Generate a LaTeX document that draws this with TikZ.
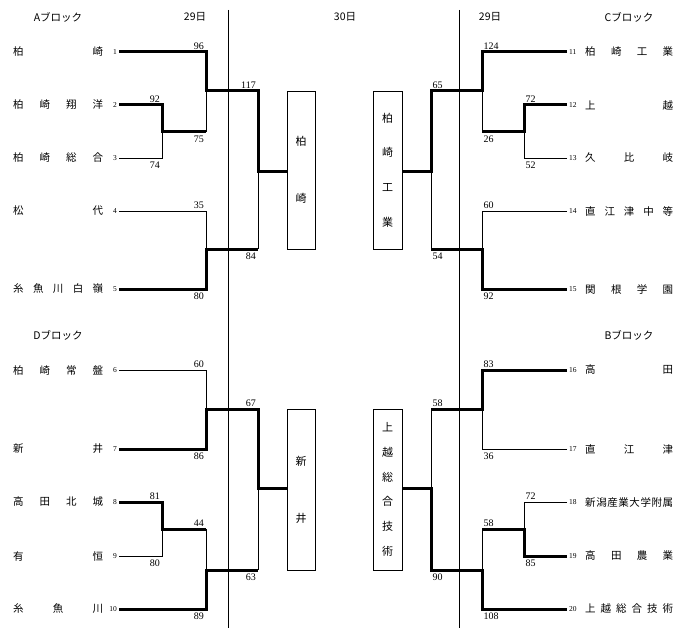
\documentclass[tikz,border=0pt]{standalone}
\usepackage{fontspec}
\setmainfont{Liberation Serif}
\newfontfamily\jp{Noto Sans CJK JP}
\newcommand\spr[1]{\sprA#1\relax}
\def\sprA#1{#1\sprB}
\def\sprB#1{\ifx\relax#1\else\hfill#1\expandafter\sprB\fi}
\begin{document}
\begin{tikzpicture}[x=1pt,y=-1pt,
  win/.style={line width=3pt, line join=miter, line cap=butt},
  lose/.style={line width=0.7pt},
  day/.style={line width=0.6pt},
  nm/.style={font=\jp\fontsize{10.5}{12}\selectfont, inner sep=0pt, anchor=west},
  sd/.style={font=\fontsize{7.5}{8}\selectfont, inner sep=0pt},
  sdl/.style={sd, anchor=east},
  sdr/.style={sd, anchor=west},
  sc/.style={font=\fontsize{10}{12}\selectfont, inner sep=0pt},
  la/.style={sc, anchor=south east, xshift=-2pt, yshift=2pt},
  lb/.style={sc, anchor=north east, xshift=-2pt, yshift=-4pt},
  ra/.style={sc, anchor=south west, xshift=1.5pt, yshift=2pt},
  rb/.style={sc, anchor=north west, xshift=1.5pt, yshift=-4pt},
  hd/.style={font=\jp\fontsize{10.5}{12}\selectfont, inner sep=0pt},
  wbox/.style={draw, line width=0.7pt, minimum width=28pt, inner sep=0pt, align=center}]
\useasboundingbox (0,0) rectangle (700,628);

% headers
\node[hd] (hA) at (58,17) {Aブロック};
\node[hd] (h29l) at (195,17) {29日};
\node[hd] (h30) at (345,17) {30日};
\node[hd] (h29r) at (490,17) {29日};
\node[hd] (hC) at (629,17) {Cブロック};
\node[hd] (hD) at (58,335) {Dブロック};
\node[hd] (hB) at (629,335) {Bブロック};

% day lines
\coordinate (d1a) at (228,10); \coordinate (d1b) at (228,628);
\coordinate (d2a) at (459,10); \coordinate (d2b) at (459,628);
\draw[day] (d1a) -- (d1b);
\draw[day] (d2a) -- (d2b);

% left teams
\foreach \i/\y/\nme in {1/52/柏崎,2/105/柏崎翔洋,3/158/柏崎総合,4/211/松代,5/289/糸魚川白嶺,6/370/柏崎常盤,7/449/新井,8/502/高田北城,9/556/有恒,10/609/糸魚川}{
  \node[nm] (n\i) at (13,\y) {\makebox[90pt][s]{\expandafter\spr\expandafter{\nme}}};
  \node[sdl] (s\i) at (117,\y) {\i};
  \coordinate (t\i) at (119,\y);
}
% right teams
\foreach \i/\y/\nme in {11/52/柏崎工業,12/105/上越,13/158/久比岐,14/211/直江津中等,15/289/関根学園,16/370/高田,17/449/直江津,18/502/新潟産業大学附属,19/556/高田農業,20/609/上越総合技術}{
  \coordinate (t\i) at (567,\y);
  \node[sdr] (s\i) at (569,\y) {\i};
  \node[nm] (n\i) at (585,\y) {\makebox[88pt][s]{\expandafter\spr\expandafter{\nme}}};
}

% winner boxes
\node[wbox, minimum height=158pt, font=\jp\fontsize{11}{57}\selectfont] (wA) at (301,170) {柏\\崎};
\node[wbox, minimum height=161pt, font=\jp\fontsize{11}{57}\selectfont] (wD) at (301,489.5) {新\\井};
\node[wbox, minimum width=29pt, minimum height=158pt, font=\jp\fontsize{11}{34.7}\selectfont] (wC) at (387.5,170) {柏\\崎\\工\\業};
\node[wbox, minimum width=29pt, minimum height=161pt, font=\jp\fontsize{11}{24.8}\selectfont] (wB) at (387.5,489.5) {上\\越\\総\\合\\技\\術};

% junction coordinates
\coordinate (m23) at (162,132);
\coordinate (m1) at (206,91);
\coordinate (m45) at (206,249);
\coordinate (mA) at (258,172);
\coordinate (m67) at (206,409);
\coordinate (m89) at (162,529);
\coordinate (m10) at (206,570);
\coordinate (mD) at (258,488);
\coordinate (m1213) at (524,132);
\coordinate (m11) at (482,91);
\coordinate (m1415) at (482,249);
\coordinate (mC) at (431,172);
\coordinate (m1617) at (482,409);
\coordinate (m1819) at (524,529);
\coordinate (m20) at (482,570);
\coordinate (mB) at (431,488);

% ---- A block
\draw[lose] (t3) -| (m23);
\draw[win] (t2) -| (m23) -- (m23 -| m1);
\draw[lose] (m23 -| m1) -- (m1);
\draw[win] (t1) -| (m1) -- (m1 -| mA) -- (mA) -- (mA -| wA.west);
\draw[lose] (mA) -- (m45 -| mA);
\draw[lose] (t4) -| (m45);
\draw[win] (t5) -| (m45) -- (m45 -| mA);
% ---- D block
\draw[lose] (t6) -| (m67);
\draw[win] (t7) -| (m67) -- (m67 -| mD) -- (mD) -- (mD -| wD.west);
\draw[lose] (mD) -- (m10 -| mD);
\draw[win] (t8) -| (m89) -- (m89 -| m10);
\draw[lose] (t9) -| (m89);
\draw[lose] (m89 -| m10) -- (m10);
\draw[win] (t10) -| (m10) -- (m10 -| mD);
% ---- C block
\draw[win] (t11) -| (m11) -- (m11 -| mC) -- (mC) -- (mC -| wC.east);
\draw[lose] (m11) -- (m1213 -| m11);
\draw[win] (t12) -| (m1213) -- (m1213 -| m11);
\draw[lose] (t13) -| (m1213);
\draw[lose] (mC) -- (m1415 -| mC);
\draw[lose] (t14) -| (m1415);
\draw[win] (t15) -| (m1415) -- (m1415 -| mC);
% ---- B block
\draw[win] (t16) -| (m1617) -- (m1617 -| mB);
\draw[lose] (t17) -| (m1617);
\draw[lose] (m1617 -| mB) -- (mB);
\draw[win] (t20) -| (m20) -- (m20 -| mB) -- (mB) -- (mB -| wB.east);
\draw[lose] (t18) -| (m1819);
\draw[win] (t19) -| (m1819) -- (m1819 -| m20);
\draw[lose] (m1819 -| m20) -- (m20);

% ---- scores left
\node[la] (c92) at (162,105) {92};
\node[lb] (c74) at (162,158) {74};
\node[la] (c96) at (206,52) {96};
\node[lb] (c75) at (206,132) {75};
\node[la] (c117) at (258,91) {117};
\node[lb] (c84) at (258,249) {84};
\node[la] (c35) at (206,211) {35};
\node[lb] (c80a) at (206,289) {80};
\node[la] (c60a) at (206,370) {60};
\node[lb] (c86) at (206,449) {86};
\node[la] (c67) at (258,409) {67};
\node[lb] (c63) at (258,570) {63};
\node[la] (c81) at (162,502) {81};
\node[lb] (c80b) at (162,556) {80};
\node[la] (c44) at (206,529) {44};
\node[lb] (c89) at (206,609) {89};
% ---- scores right
\node[ra] (c124) at (482,52) {124};
\node[rb] (c26) at (482,132) {26};
\node[ra] (c72a) at (524,105) {72};
\node[rb] (c52) at (524,158) {52};
\node[ra] (c65) at (431,91) {65};
\node[rb] (c54) at (431,249) {54};
\node[ra] (c60b) at (482,211) {60};
\node[rb] (c92b) at (482,289) {92};
\node[ra] (c83) at (482,370) {83};
\node[rb] (c36) at (482,449) {36};
\node[ra] (c58a) at (431,409) {58};
\node[rb] (c90) at (431,570) {90};
\node[ra] (c72b) at (524,502) {72};
\node[rb] (c85) at (524,556) {85};
\node[ra] (c58b) at (482,529) {58};
\node[rb] (c108) at (482,609) {108};
\end{tikzpicture}
\end{document}
